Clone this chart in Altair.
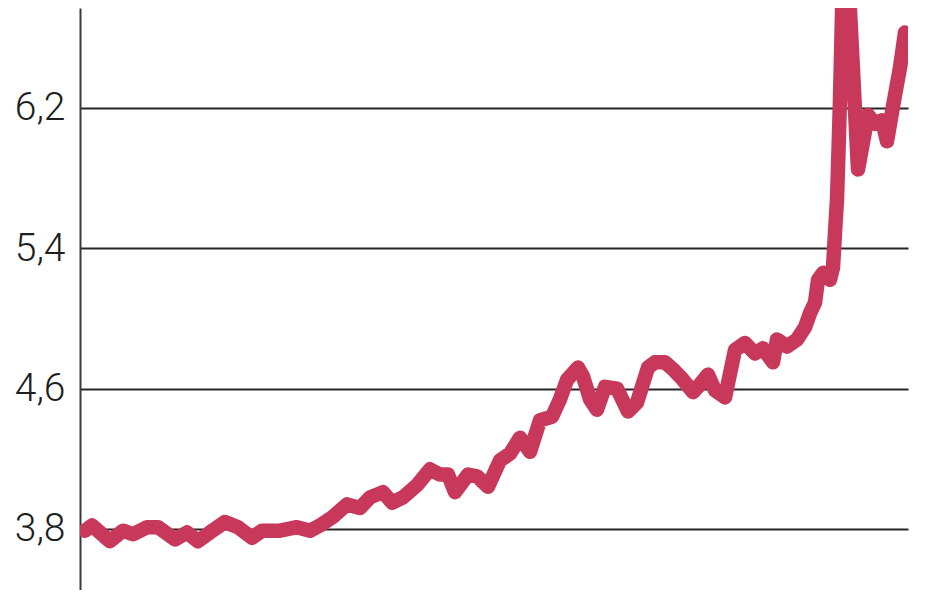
import altair as alt
import pandas as pd

# period index (evenly spaced time steps) and values
period = [0, 1.4, 5, 7.6, 9.6, 12.4, 14.6, 18, 20.4, 22.6, 25, 28, 30.6, 33.4, 35.4,
          39, 42.4, 45, 47, 49.6, 52.4, 55, 57, 59.6, 61.4, 63.6, 66.4, 69, 71, 72.6,
          74, 76.6, 78.4, 80.6, 83, 85, 87, 89, 91, 93.4, 95, 96.4, 98.6, 99.6, 101,
          102.4, 104, 106.4, 108.6, 110.4, 112.6, 114, 116, 117.6, 119.6, 121.6, 122.6,
          124.6, 126, 128, 130, 132, 134, 135.6, 137.6, 138.4, 140.4, 142.4, 144, 145,
          146, 146.6, 147.6, 149, 149.6, 150, 150.4, 150.6, 151, 151.6, 152.6, 154.6,
          156.6, 158, 159.4, 160.4, 161.6, 163, 164]
value = [3.79, 3.82, 3.73, 3.79, 3.77, 3.81, 3.81, 3.74, 3.78, 3.73, 3.78, 3.84, 3.81,
         3.75, 3.79, 3.79, 3.81, 3.79, 3.82, 3.87, 3.94, 3.92, 3.98, 4.01, 3.95, 3.98,
         4.05, 4.14, 4.11, 4.11, 4.01, 4.11, 4.10, 4.04, 4.19, 4.23, 4.32, 4.24, 4.42,
         4.44, 4.54, 4.65, 4.72, 4.67, 4.54, 4.48, 4.61, 4.60, 4.47, 4.52, 4.72, 4.75,
         4.75, 4.71, 4.65, 4.58, 4.61, 4.68, 4.59, 4.55, 4.82, 4.86, 4.80, 4.83, 4.75,
         4.88, 4.84, 4.88, 4.95, 5.03, 5.09, 5.22, 5.26, 5.22, 5.29, 5.49, 5.68, 5.86,
         6.25, 6.98, 6.98, 5.85, 6.16, 6.11, 6.13, 6.01, 6.21, 6.43, 6.63]

y_ticks = [3.8, 4.6, 5.4, 6.2]

df = pd.DataFrame({"period": period, "value": value})

chart = alt.Chart(df).mark_line(
    color="#c8385b", strokeWidth=14.5, strokeCap="round", strokeJoin="round", clip=True
).encode(
    x=alt.X("period:Q", scale=alt.Scale(domain=[-1, 164.6], nice=False, zero=False),
            axis=None),
    y=alt.Y("value:Q", scale=alt.Scale(domain=[3.452, 6.77], nice=False, zero=False),
            axis=alt.Axis(values=y_ticks, title=None, ticks=False, labelPadding=15,
                          labelExpr="replace(format(datum.value, '.1f'), '.', ',')",
                          labelFont="Roboto", labelFontSize=39, labelFontWeight=300,
                          labelColor="#1e1e1e",
                          domain=True, domainColor="#3a3a3a", domainWidth=2,
                          grid=True, gridColor="#262626", gridWidth=2,
                          labelFlush=False)),
).properties(
    width=828, height=582, autosize=alt.AutoSizeParams(type="none"),
    padding={"left": 72, "top": 0, "right": 10, "bottom": 0},
    background="white",
).configure_view(stroke=None)

chart.save("out.html", embed_options={"renderer": "svg", "actions": False})
